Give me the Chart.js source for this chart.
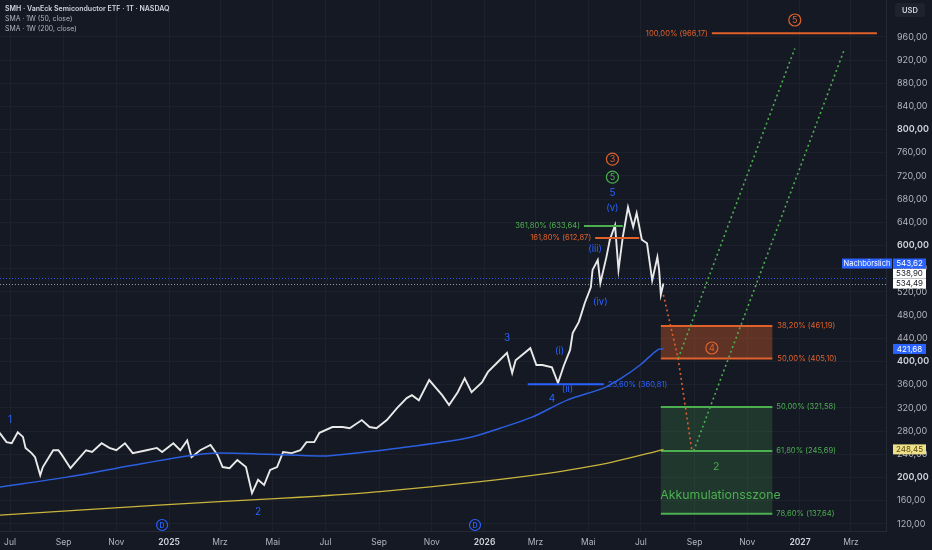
<!DOCTYPE html>
<html>
<head>
<meta charset="utf-8">
<script src="https://cdn.jsdelivr.net/npm/chart.js@4.4.1/dist/chart.umd.min.js"></script>
<style>
  html, body { margin: 0; padding: 0; background: #151924; }
  #chart { display: block; }
</style>
</head>
<body>
<canvas id="chart" width="932" height="550"></canvas>
<script>
// --- data (SMH daily, read as a simplified close path) ---
const priceDates = ['2024-06-19','2024-06-27','2024-07-03','2024-07-10','2024-07-16','2024-07-19','2024-07-26','2024-07-30',
  '2024-08-05','2024-08-08','2024-08-20','2024-08-26','2024-08-30','2024-09-09','2024-09-17','2024-09-27',
  '2024-10-04','2024-10-15','2024-10-24','2024-11-01','2024-11-11','2024-11-20','2024-12-06','2024-12-18',
  '2024-12-24','2025-01-06','2025-01-14','2025-01-22','2025-01-27','2025-02-06','2025-02-18','2025-02-26',
  '2025-03-04','2025-03-12','2025-03-21','2025-03-31','2025-04-07','2025-04-14','2025-04-21','2025-04-28',
  '2025-05-06','2025-05-13','2025-05-23','2025-06-02','2025-06-09','2025-06-18','2025-06-24','2025-07-09',
  '2025-07-21','2025-07-29','2025-08-12','2025-08-21','2025-08-29','2025-09-10','2025-09-22','2025-10-03',
  '2025-10-09','2025-10-17','2025-10-29','2025-11-06','2025-11-13','2025-11-21','2025-12-01','2025-12-09',
  '2025-12-17','2025-12-29','2026-01-05','2026-01-15','2026-01-27','2026-02-02','2026-02-06','2026-02-23',
  '2026-03-02','2026-03-09','2026-03-20','2026-03-27','2026-04-03','2026-04-10','2026-04-13','2026-04-20',
  '2026-04-22','2026-04-27','2026-05-04','2026-05-06','2026-05-12','2026-05-15','2026-05-22','2026-05-26',
  '2026-06-01','2026-06-05','2026-06-10','2026-06-16','2026-06-22','2026-06-26','2026-07-02','2026-07-08',
  '2026-07-14','2026-07-20','2026-07-22','2026-07-24','2026-07-27'];
const priceClose = [277, 261, 259, 278, 270, 251, 242, 235,
  204, 218, 247, 247, 239, 216, 230, 247,
  244, 259, 251, 247, 259, 242, 247, 251,
  244, 259, 247, 264, 235, 247, 256, 239,
  218, 216, 230, 218, 173, 196, 187, 213,
  218, 244, 242, 247, 261, 261, 277, 287,
  287, 285, 299, 287, 285, 299, 320, 337,
  342, 333, 368, 354, 342, 325, 347, 371,
  347, 364, 382, 397, 415, 380, 402, 423,
  394, 394, 390, 363, 394, 420, 449, 468,
  477, 501, 528, 558, 575, 535, 580, 610,
  635, 558, 615, 666, 632, 656, 610, 604,
  540, 580, 558, 515, 534.49];

const sma50Dates = ['2024-06-19','2024-09-05','2024-11-20','2025-01-22','2025-02-21','2025-04-24','2025-06-24','2025-07-09',
  '2025-09-25','2025-12-12','2026-01-19','2026-02-25','2026-04-06','2026-05-20','2026-06-10','2026-06-30','2026-07-21','2026-07-27'];
const sma50Values = [183.5, 200.6, 221, 237, 242, 240, 237, 238, 251, 268, 285, 304, 333, 355, 373, 394, 421, 421.68];

const sma200Dates = ['2024-06-19','2024-12-20','2025-05-09','2025-06-24','2025-09-02','2025-12-27','2026-03-15','2026-04-22',
  '2026-05-30','2026-07-21','2026-07-27'];
const sma200Values = [135, 152.5, 164, 168, 175.5, 192.7, 207, 216, 227, 246, 248.45];

// projected paths (dotted)
const orangePathDates = ['2026-07-27', '2026-08-13', '2026-08-29'];
const orangePathValues = [515, 405.10, 245.69];
const greenPathADates = ['2026-08-13', '2026-12-26'];
const greenPathAValues = [405.10, 940];
const greenPathBDates = ['2026-08-31', '2027-02-21'];
const greenPathBValues = [245.69, 937];

// fibonacci levels
const orangeFibPct = ['38,20%', '50,00%'];
const orangeFibVal = [461.19, 405.10];
const greenFibPct = ['50,00%', '61,80%', '78,60%'];
const greenFibVal = [321.58, 245.69, 137.64];

// axis ticks
const monthTickDates = ['2024-07-01','2024-09-01','2024-11-01','2025-01-01','2025-03-01','2025-05-01','2025-07-01','2025-09-01',
  '2025-11-01','2026-01-01','2026-03-01','2026-05-01','2026-07-01','2026-09-01','2026-11-01','2027-01-01','2027-03-01'];
const monthTickLabels = ['Jul','Sep','Nov','2025','Mrz','Mai','Jul','Sep','Nov','2026','Mrz','Mai','Jul','Sep','Nov','2027','Mrz'];
const yTickValues = [120,160,200,240,280,320,360,400,440,480,520,560,600,640,680,720,760,800,840,880,920,960];

const lastClose = 534.49, afterHours = 543.62, midPrice = 538.90;

// --- helpers ---
const FONT = 'Inter, "Noto Sans", sans-serif';
const BG = '#151924';
const BLUE = '#2962ff';
const ORANGE = '#e0612a';
const GREEN = '#4caf50';
const T0 = Date.UTC(2024, 6, 1);
function dayOf(s) {
  const [y, m, d] = s.split('-').map(Number);
  return (Date.UTC(y, m - 1, d) - T0) / 864e5;
}
const fmt = v => v.toFixed(2).replace('.', ',');
const pts = (dates, vals) => dates.map((d, i) => ({ x: dayOf(d), y: vals[i] }));
const monthTickDays = monthTickDates.map(dayOf);

function dotted(data, color) {
  return { data, borderColor: color, borderWidth: 1.6, borderDash: [2, 3], pointRadius: 0, fill: false, tension: 0 };
}

function circled(ctx, x, y, txt, color) {
  ctx.save();
  ctx.strokeStyle = color;
  ctx.lineWidth = 1.2;
  ctx.beginPath();
  ctx.arc(x, y, 6, 0, Math.PI * 2);
  ctx.stroke();
  ctx.fillStyle = color;
  ctx.font = '9px ' + FONT;
  ctx.textAlign = 'center';
  ctx.textBaseline = 'middle';
  ctx.fillText(txt, x, y + 0.5);
  ctx.restore();
}

function box(ctx, x, y, w, h, fill, txt, color, size) {
  ctx.fillStyle = fill;
  ctx.fillRect(x, y, w, h);
  ctx.fillStyle = color;
  ctx.font = (size || 8) + 'px ' + FONT;
  ctx.textAlign = 'center';
  ctx.textBaseline = 'middle';
  ctx.fillText(txt, x + w / 2, y + h / 2 + 0.5);
}

// keep the plot area flush with the canvas edges
function noPad(s) {
  s.paddingTop = 0; s.paddingBottom = 0; s.paddingLeft = 0; s.paddingRight = 0;
}

const overlay = {
  id: 'overlay',
  beforeDraw(chart) {
    const c = chart.ctx;
    c.save();
    c.fillStyle = BG;
    c.fillRect(0, 0, chart.width, chart.height);
    c.restore();
  },
  beforeDatasetsDraw(chart) {
    const c = chart.ctx, xs = chart.scales.x, ys = chart.scales.y, a = chart.chartArea;
    const X = d => xs.getPixelForValue(dayOf(d)), Y = v => ys.getPixelForValue(v);
    c.save();
    // zones
    const zx0 = X('2026-07-24'), zx1 = X('2026-11-30');
    c.fillStyle = 'rgba(224,97,42,0.36)';
    c.fillRect(zx0, Y(orangeFibVal[0]), zx1 - zx0, Y(orangeFibVal[1]) - Y(orangeFibVal[0]));
    c.fillStyle = 'rgba(76,175,80,0.2)';
    c.fillRect(zx0, Y(greenFibVal[0]), zx1 - zx0, Y(greenFibVal[2]) - Y(greenFibVal[0]));
    c.lineWidth = 2;
    c.strokeStyle = ORANGE;
    orangeFibVal.forEach(v => { c.beginPath(); c.moveTo(zx0, Y(v)); c.lineTo(zx1, Y(v)); c.stroke(); });
    c.strokeStyle = GREEN;
    greenFibVal.forEach(v => { c.beginPath(); c.moveTo(zx0, Y(v)); c.lineTo(zx1, Y(v)); c.stroke(); });

    // horizontal dotted price lines
    c.lineWidth = 1;
    c.setLineDash([1, 2]);
    c.strokeStyle = 'rgba(41,98,255,0.9)';
    c.beginPath(); c.moveTo(a.left, Math.round(Y(afterHours)) + 0.5); c.lineTo(a.right, Math.round(Y(afterHours)) + 0.5); c.stroke();
    c.strokeStyle = '#9598a1';
    c.beginPath(); c.moveTo(a.left, Math.round(Y(lastClose)) + 0.5); c.lineTo(a.right, Math.round(Y(lastClose)) + 0.5); c.stroke();
    c.setLineDash([]);
    c.restore();
  },
  afterDatasetsDraw(chart) {
    const c = chart.ctx, xs = chart.scales.x, ys = chart.scales.y, a = chart.chartArea;
    const X = d => xs.getPixelForValue(dayOf(d)), Y = v => ys.getPixelForValue(v);
    c.save();

    // short fib lines near the top
    function fibLine(d0, d1, v, color, label, side) {
      c.strokeStyle = color;
      c.lineWidth = 2;
      c.beginPath(); c.moveTo(X(d0), Y(v)); c.lineTo(X(d1), Y(v)); c.stroke();
      c.fillStyle = color;
      c.font = '7.6px ' + FONT;
      c.textBaseline = 'middle';
      if (side === 'left') { c.textAlign = 'right'; c.fillText(label, X(d0) - 4, Y(v)); }
      else { c.textAlign = 'left'; c.fillText(label, X(d1) + 4, Y(v)); }
    }
    fibLine('2026-04-26', '2026-06-10', 633.64, GREEN, '361,80% (633,64)', 'left');
    fibLine('2026-05-09', '2026-06-29', 612.87, ORANGE, '161,80% (612,87)', 'left');
    fibLine('2026-02-20', '2026-05-19', 360.81, BLUE, '23,60% (360,81)', 'right');
    fibLine('2026-09-21', '2027-03-31', 966.17, ORANGE, '100,00% (966,17)', 'left');

    // zone labels
    const zx1 = X('2026-11-30');
    c.font = '7.6px ' + FONT;
    c.textAlign = 'left';
    c.textBaseline = 'middle';
    c.fillStyle = ORANGE;
    orangeFibVal.forEach((v, i) => c.fillText(orangeFibPct[i] + ' (' + fmt(v) + ')', zx1 + 5, Y(v)));
    c.fillStyle = GREEN;
    greenFibVal.forEach((v, i) => c.fillText(greenFibPct[i] + ' (' + fmt(v) + ')', zx1 + 4, Y(v)));

    // wave labels
    c.fillStyle = BLUE;
    c.textAlign = 'center';
    c.font = '10px ' + FONT;
    [['1', '2024-07-01', 299], ['2', '2025-04-14', 140.4], ['3', '2026-01-27', 440.5],
     ['4', '2026-03-20', 335], ['5', '2026-05-29', 690.6]].forEach(w => c.fillText(w[0], X(w[1]), Y(w[2])));
    c.font = '9.5px ' + FONT;
    [['(i)', '2026-03-29', 418], ['(ii)', '2026-04-07', 352.6], ['(iii)', '2026-05-09', 594],
     ['(iv)', '2026-05-15', 502.5], ['(v)', '2026-05-29', 665]].forEach(w => c.fillText(w[0], X(w[1]), Y(w[2])));

    circled(c, X('2026-05-29'), Y(718), '5', GREEN);
    circled(c, X('2026-05-29'), Y(749), '3', ORANGE);
    circled(c, X('2026-09-21'), Y(423.3), '4', ORANGE);
    circled(c, X('2026-12-26'), Y(989), '5', ORANGE);

    c.fillStyle = GREEN;
    c.font = '10.5px ' + FONT;
    c.fillText('2', X('2026-09-26'), Y(218));
    c.font = '12.3px ' + FONT;
    c.fillText('Akkumulationsszone', X('2026-10-01'), Y(169.7));

    // dividend markers
    ['2024-12-24', '2025-12-21'].forEach(d => {
      const x = X(d), y = a.bottom - 6;
      c.strokeStyle = BLUE;
      c.lineWidth = 1.2;
      c.beginPath(); c.arc(x, y, 5.5, 0, Math.PI * 2); c.stroke();
      c.fillStyle = BLUE;
      c.font = '600 7px ' + FONT;
      c.fillText('D', x, y + 0.5);
    });
    c.restore();
  },
  afterDraw(chart) {
    const c = chart.ctx, ys = chart.scales.y, a = chart.chartArea;
    c.save();
    const bx = a.right + 7, bw = 33, bh = 10;
    const yl = ys.getPixelForValue(lastClose);
    box(c, bx, yl - bh / 2, bw, bh, '#ffffff', fmt(lastClose), '#131722');
    box(c, bx, yl - bh * 1.5, bw, bh, '#ffffff', fmt(midPrice), '#131722');
    box(c, bx, yl - bh * 2.5, bw, bh, BLUE, fmt(afterHours), '#ffffff');
    box(c, a.right - 44, yl - bh * 2.5, 50, bh, BLUE, 'Nachbörslich', '#ffffff', 7.5);
    const y50 = ys.getPixelForValue(sma50Values[sma50Values.length - 1]);
    box(c, bx, y50 - bh / 2, bw, bh, BLUE, fmt(sma50Values[sma50Values.length - 1]), '#ffffff');
    const y200 = ys.getPixelForValue(sma200Values[sma200Values.length - 1]);
    box(c, bx, y200 - bh / 2, bw, bh, '#eee08a', fmt(sma200Values[sma200Values.length - 1]), '#5a4a10');

    // currency badge
    c.fillStyle = '#1e222d';
    c.beginPath();
    c.roundRect(895, 3, 30, 14, 3);
    c.fill();
    c.fillStyle = '#d1d4dc';
    c.font = '600 7.5px ' + FONT;
    c.textAlign = 'center';
    c.textBaseline = 'middle';
    c.fillText('USD', 910, 10.5);

    // legend
    c.textAlign = 'left';
    c.fillStyle = '#d1d4dc';
    c.font = '600 7px ' + FONT;
    c.fillText('SMH · VanEck Semiconductor ETF · 1T · NASDAQ', 5, 8.5);
    c.fillStyle = '#b2b5be';
    c.font = '6.9px ' + FONT;
    c.fillText('SMA · 1W (50, close)', 5, 18.8);
    c.fillText('SMA · 1W (200, close)', 5, 29);
    c.restore();
  }
};

new Chart(document.getElementById('chart'), {
  type: 'line',
  data: {
    datasets: [
      { data: pts(sma200Dates, sma200Values), borderColor: '#c9b53c', borderWidth: 1.3, pointRadius: 0, tension: 0.3 },
      { data: pts(sma50Dates, sma50Values), borderColor: '#2b5fe0', borderWidth: 1.5, pointRadius: 0, tension: 0.3 },
      { data: pts(priceDates, priceClose), borderColor: '#e9e9e9', borderWidth: 1.9, pointRadius: 0, tension: 0 },
      dotted(pts(orangePathDates, orangePathValues), ORANGE),
      dotted(pts(greenPathADates, greenPathAValues), GREEN),
      dotted(pts(greenPathBDates, greenPathBValues), GREEN)
    ]
  },
  options: {
    responsive: false,
    animation: false,
    layout: { padding: 0 },
    plugins: { legend: { display: false }, tooltip: { enabled: false } },
    scales: {
      x: {
        type: 'linear',
        min: -11.57,
        max: 1013.5,
        afterBuildTicks: s => { s.ticks = monthTickDays.map(v => ({ value: v })); },
        afterFit: s => { s.height = 19; noPad(s); },
        grid: { color: '#1d212c', drawTicks: false },
        border: { color: '#262a35' },
        ticks: {
          autoSkip: false,
          maxRotation: 0,
          padding: 6,
          color: c => /^\d{4}$/.test(monthTickLabels[c.index]) ? '#d1d4dc' : '#b2b5be',
          font: c => ({ family: FONT, size: 8.5, weight: /^\d{4}$/.test(monthTickLabels[c.index]) ? '600' : '400' }),
          callback: v => monthTickLabels[monthTickDays.indexOf(v)]
        }
      },
      y: {
        position: 'right',
        min: 107.7,
        max: 1023.5,
        afterBuildTicks: s => { s.ticks = yTickValues.map(v => ({ value: v })); },
        afterFit: s => { s.width = 46; noPad(s); },
        // transparent tick marks give the label offset without padding the chart area
        grid: { color: '#1d212c', drawTicks: true, tickLength: 11, tickColor: 'rgba(0,0,0,0)' },
        border: { color: '#262a35' },
        ticks: {
          padding: 0,
          crossAlign: 'near',
          color: c => c.tick && c.tick.value % 200 === 0 ? '#d1d4dc' : '#b2b5be',
          font: c => ({ family: FONT, size: 9, weight: c.tick && c.tick.value % 200 === 0 ? '600' : '400' }),
          callback: v => fmt(v)
        }
      }
    }
  },
  plugins: [overlay]
});
</script>
</body>
</html>
